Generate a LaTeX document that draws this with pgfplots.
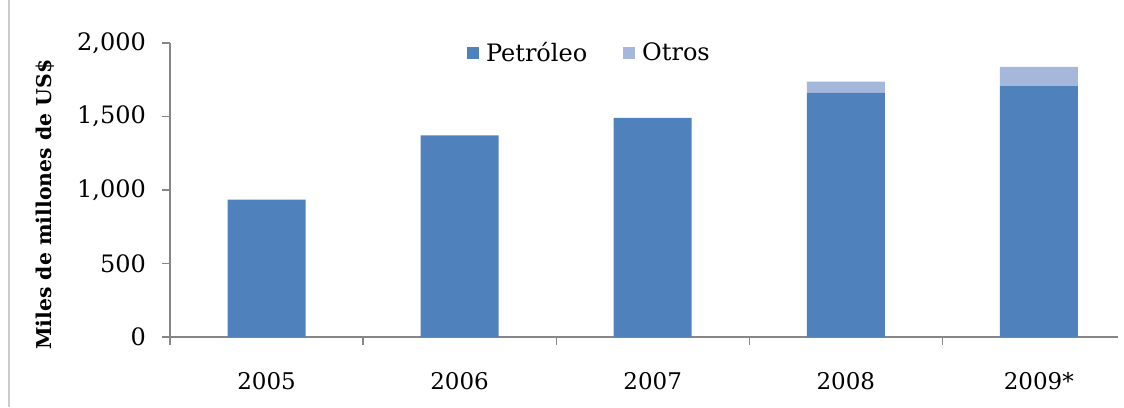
\documentclass[border=0pt]{standalone}
\usepackage{pgfplots}
\pgfplotsset{compat=1.18}
\usepackage{fontspec}
\setmainfont{DejaVu Serif}
\definecolor{petro}{HTML}{4F81BD}
\definecolor{otros}{HTML}{A5B7DA}
\definecolor{axgray}{HTML}{868686}
\begin{document}
\begin{tikzpicture}[x=1pt,y=1pt]
\useasboundingbox (-85,-35) rectangle (477,168.5);
\draw[gray!40, line width=0.6pt] (-80.5,-35) -- (-80.5,168.5);
\begin{axis}[
  at={(0,0)}, anchor=south west,
  scale only axis, width=474pt, height=147pt,
  ybar stacked, bar width=39pt,
  xmin=-0.5, xmax=4.41, ymin=0, ymax=2000,
  axis x line*=bottom, axis y line*=left,
  axis line style={axgray, line width=0.6pt},
  tick align=outside,
  tick style={axgray, line width=0.6pt},
  major tick length=4pt,
  xtick={-0.5,0.5,1.5,2.5,3.5},
  xticklabels={},
  extra x ticks={0,1,2,3,4},
  extra x tick labels={2005,2006,2007,2008,2009*},
  extra x tick style={major tick length=0pt, tick style={draw=none},
    xticklabel style={font=\fontsize{11.5}{13}\selectfont, text=black, yshift=-14pt}},
  ytick={0,500,1000,1500,2000},
  /pgf/number format/1000 sep={,},
  /pgf/number format/assume math mode=true,
  yticklabel style={font=\fontsize{12}{13}\selectfont, text=black, xshift=-4.5pt},
  every axis y label/.style={at={(axis description cs:-0.132,0.45)}, rotate=90, anchor=center, font=\bfseries\fontsize{10.2}{12}\selectfont},
  ylabel={Miles de millones de US\$},
  legend style={at={(axis description cs:0.4435,0.965)}, anchor=center, draw=none, fill=none,
    legend columns=2, font=\fontsize{12}{14}\selectfont,
    /tikz/every even column/.append style={column sep=16pt}},
  legend image code/.code={\draw[#1, draw=none] (0pt,-3pt) rectangle (6pt,3pt); \path (7.5pt,0pt);},
]
\addplot[fill=petro, draw=none] coordinates {(0,934) (1,1371) (2,1490) (3,1660) (4,1707)};
\addplot[fill=otros, draw=none] coordinates {(0,0) (1,0) (2,0) (3,77) (4,130)};
\legend{Petróleo, Otros}
\node[font=\fontsize{9}{10}\selectfont] at (axis cs:4,850) {93\%};
\end{axis}
\end{tikzpicture}
\end{document}
